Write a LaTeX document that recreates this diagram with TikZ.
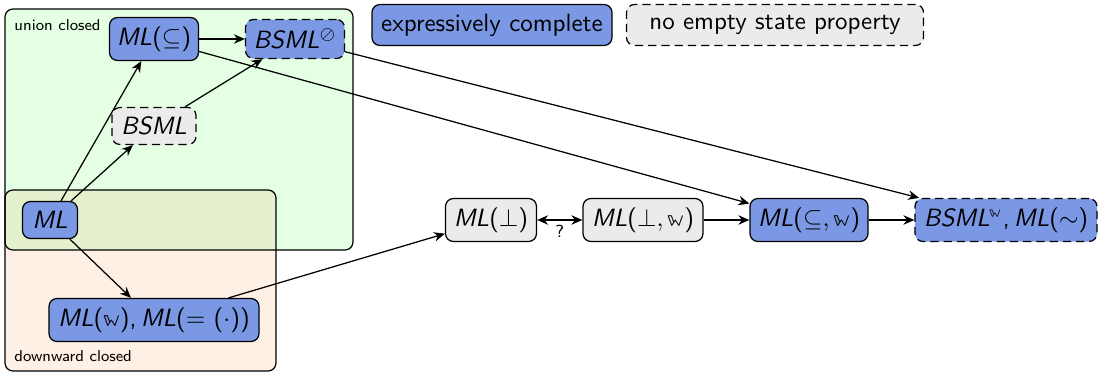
\documentclass[tikz,border=0pt]{standalone}
\usepackage{fontspec}
\usetikzlibrary{arrows.meta}
\renewcommand\familydefault{\sfdefault}
\newfontfamily\lmmath{latinmodern-math.otf}
\newcommand{\MLi}{\textit{ML}}
\newcommand{\BSMLi}{\textit{BSML}}
\newcommand{\ww}{\text{\lmmath 𝕨}}
\definecolor{cblue}{RGB}{123,152,229}
\definecolor{cgray}{RGB}{235,235,235}
\definecolor{cgreen}{RGB}{229,255,229}
\definecolor{corange}{RGB}{255,240,229}
\definecolor{cboth}{RGB}{228,240,206}
\tikzset{
  lang/.style={draw, rounded corners=3.2pt, inner sep=0pt, minimum height=17.2pt, line width=0.5pt},
  ecomp/.style={lang, fill=cblue},
  noes/.style={lang, fill=cgray, dash pattern=on 3.3pt off 2pt},
  ecnoes/.style={lang, fill=cblue, dash pattern=on 3.3pt off 2pt},
  conn/.style={-{Stealth[length=4.4pt,width=3.8pt]}, line width=0.5pt},
  region/.style={rounded corners=3.2pt, line width=0.5pt},
  rlabel/.style={font=\fontsize{6.3}{7}\selectfont, anchor=west, inner sep=0pt}
}
\usepackage{amsmath}
\begin{document}
\begin{tikzpicture}[x=0.4pt,y=-0.4pt]
\useasboundingbox (0,0) rectangle (1098,373);
% regions
\fill[region, cgreen] (5,9) rectangle (353,250);
\fill[region, corange] (5,190) rectangle (276,371);
\begin{scope}[rounded corners=3.2pt]
  \clip (5,9) rectangle (353,250);
  \fill[region, cboth] (5,190) rectangle (276,371);
\end{scope}
\draw[region] (5,9) rectangle (353,250);
\draw[region] (5,190) rectangle (276,371);
\node[rlabel] (uc) at (14,25) {union closed};
\node[rlabel] (dc) at (14,356) {downward closed};
% legend
\node[ecomp, minimum width=96pt, minimum height=16.4pt] (leg1) at (492,25) {expressively complete};
\node[noes, minimum width=118.8pt, minimum height=16.4pt] (leg2) at (775,25) {no empty state property};
% nodes
\node[ecomp, minimum width=35.6pt] (mlsub) at (154,39) {\MLi($\subseteq$)};
\node[ecnoes, minimum width=39.6pt, minimum height=15.6pt] (bsmlo) at (295,39) {\BSMLi$^{\oslash}$};
\node[noes, minimum width=33.6pt, minimum height=14.8pt] (bsml) at (154,126) {\BSMLi};
\node[ecomp, minimum width=22pt, minimum height=14.8pt] (ml) at (50,220) {\MLi};
\node[ecomp, minimum width=84pt] (mlw) at (154,320) {\MLi($\ww$),\,\MLi(= ($\cdot$))};
\node[noes, solid, minimum width=36.4pt] (mlbot) at (491,220) {\MLi($\perp$)};
\node[noes, solid, minimum width=48pt] (mlbotw) at (643,220) {\MLi($\perp,\ww$)};
\node[ecomp, minimum width=47.2pt] (mlsubw) at (809,220) {\MLi($\subseteq,\ww$)};
\node[ecnoes, minimum width=72.8pt] (bsmlw) at (1006,220) {\BSMLi$^{\ww}$,\,\MLi($\sim$)};
% connectors
\draw[conn] (mlsub) -- (bsmlo);
\draw[conn] (ml) -- (mlsub);
\draw[conn] (ml) -- (bsml);
\draw[conn] (bsml) -- (bsmlo);
\draw[conn] (mlsub) -- (mlsubw);
\draw[conn] (bsmlo) -- (bsmlw);
\draw[conn] (ml) -- (mlw);
\draw[conn] (mlw) -- (mlbot);
\draw[conn, {Stealth[length=4.4pt,width=3.8pt]}-{Stealth[length=4.4pt,width=3.8pt]}] (mlbot) -- node[below=1pt, font=\scriptsize, inner sep=1pt] (q) {?} (mlbotw);
\draw[conn] (mlbotw) -- (mlsubw);
\draw[conn] (mlsubw) -- (bsmlw);
\end{tikzpicture}
\end{document}
